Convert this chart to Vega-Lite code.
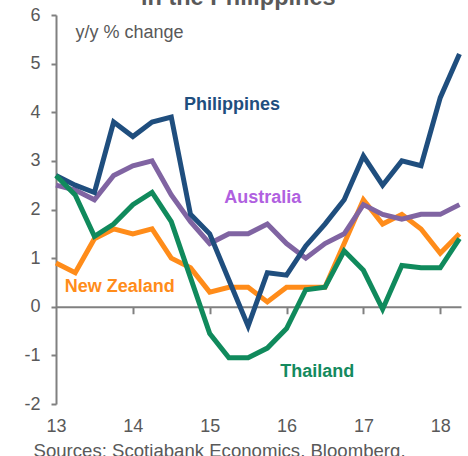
{
  "$schema": "https://vega.github.io/schema/vega-lite/v6.json",
  "width": 405,
  "height": 389,
  "autosize": {"type": "none"},
  "padding": {"left": 56, "top": 15, "right": 7, "bottom": 52},
  "background": "white",
  "config": {
    "font": "Liberation Sans",
    "view": {"stroke": null}
  },
  "title": {
    "text": "in the Philippines",
    "fontSize": 23.5,
    "fontWeight": "bold",
    "color": "#595959",
    "anchor": "start",
    "dx": 117,
    "dy": 22,
    "offset": 0,
    "baseline": "alphabetic"
  },
  "datasets": {
    "series": [
      {"q": 13.0, "country": "New Zealand", "value": 0.9},
      {"q": 13.25, "country": "New Zealand", "value": 0.7},
      {"q": 13.5, "country": "New Zealand", "value": 1.4},
      {"q": 13.75, "country": "New Zealand", "value": 1.6},
      {"q": 14.0, "country": "New Zealand", "value": 1.5},
      {"q": 14.25, "country": "New Zealand", "value": 1.6},
      {"q": 14.5, "country": "New Zealand", "value": 1.0},
      {"q": 14.75, "country": "New Zealand", "value": 0.8},
      {"q": 15.0, "country": "New Zealand", "value": 0.3},
      {"q": 15.25, "country": "New Zealand", "value": 0.4},
      {"q": 15.5, "country": "New Zealand", "value": 0.4},
      {"q": 15.75, "country": "New Zealand", "value": 0.1},
      {"q": 16.0, "country": "New Zealand", "value": 0.4},
      {"q": 16.25, "country": "New Zealand", "value": 0.4},
      {"q": 16.5, "country": "New Zealand", "value": 0.4},
      {"q": 16.75, "country": "New Zealand", "value": 1.3},
      {"q": 17.0, "country": "New Zealand", "value": 2.2},
      {"q": 17.25, "country": "New Zealand", "value": 1.7},
      {"q": 17.5, "country": "New Zealand", "value": 1.9},
      {"q": 17.75, "country": "New Zealand", "value": 1.6},
      {"q": 18.0, "country": "New Zealand", "value": 1.1},
      {"q": 18.25, "country": "New Zealand", "value": 1.5},
      {"q": 13.0, "country": "Australia", "value": 2.5},
      {"q": 13.25, "country": "Australia", "value": 2.4},
      {"q": 13.5, "country": "Australia", "value": 2.2},
      {"q": 13.75, "country": "Australia", "value": 2.7},
      {"q": 14.0, "country": "Australia", "value": 2.9},
      {"q": 14.25, "country": "Australia", "value": 3.0},
      {"q": 14.5, "country": "Australia", "value": 2.3},
      {"q": 14.75, "country": "Australia", "value": 1.75},
      {"q": 15.0, "country": "Australia", "value": 1.3},
      {"q": 15.25, "country": "Australia", "value": 1.5},
      {"q": 15.5, "country": "Australia", "value": 1.5},
      {"q": 15.75, "country": "Australia", "value": 1.7},
      {"q": 16.0, "country": "Australia", "value": 1.3},
      {"q": 16.25, "country": "Australia", "value": 1.0},
      {"q": 16.5, "country": "Australia", "value": 1.3},
      {"q": 16.75, "country": "Australia", "value": 1.5},
      {"q": 17.0, "country": "Australia", "value": 2.1},
      {"q": 17.25, "country": "Australia", "value": 1.9},
      {"q": 17.5, "country": "Australia", "value": 1.8},
      {"q": 17.75, "country": "Australia", "value": 1.9},
      {"q": 18.0, "country": "Australia", "value": 1.9},
      {"q": 18.25, "country": "Australia", "value": 2.1},
      {"q": 13.0, "country": "Philippines", "value": 2.7},
      {"q": 13.25, "country": "Philippines", "value": 2.5},
      {"q": 13.5, "country": "Philippines", "value": 2.35},
      {"q": 13.75, "country": "Philippines", "value": 3.8},
      {"q": 14.0, "country": "Philippines", "value": 3.5},
      {"q": 14.25, "country": "Philippines", "value": 3.8},
      {"q": 14.5, "country": "Philippines", "value": 3.9},
      {"q": 14.75, "country": "Philippines", "value": 1.9},
      {"q": 15.0, "country": "Philippines", "value": 1.5},
      {"q": 15.25, "country": "Philippines", "value": 0.55},
      {"q": 15.5, "country": "Philippines", "value": -0.4},
      {"q": 15.75, "country": "Philippines", "value": 0.7},
      {"q": 16.0, "country": "Philippines", "value": 0.65},
      {"q": 16.25, "country": "Philippines", "value": 1.25},
      {"q": 16.5, "country": "Philippines", "value": 1.7},
      {"q": 16.75, "country": "Philippines", "value": 2.2},
      {"q": 17.0, "country": "Philippines", "value": 3.1},
      {"q": 17.25, "country": "Philippines", "value": 2.5},
      {"q": 17.5, "country": "Philippines", "value": 3.0},
      {"q": 17.75, "country": "Philippines", "value": 2.9},
      {"q": 18.0, "country": "Philippines", "value": 4.3},
      {"q": 18.25, "country": "Philippines", "value": 5.2},
      {"q": 13.0, "country": "Thailand", "value": 2.7},
      {"q": 13.25, "country": "Thailand", "value": 2.3},
      {"q": 13.5, "country": "Thailand", "value": 1.45},
      {"q": 13.75, "country": "Thailand", "value": 1.7},
      {"q": 14.0, "country": "Thailand", "value": 2.1},
      {"q": 14.25, "country": "Thailand", "value": 2.35},
      {"q": 14.5, "country": "Thailand", "value": 1.75},
      {"q": 14.75, "country": "Thailand", "value": 0.6},
      {"q": 15.0, "country": "Thailand", "value": -0.55},
      {"q": 15.25, "country": "Thailand", "value": -1.05},
      {"q": 15.5, "country": "Thailand", "value": -1.05},
      {"q": 15.75, "country": "Thailand", "value": -0.85},
      {"q": 16.0, "country": "Thailand", "value": -0.45},
      {"q": 16.25, "country": "Thailand", "value": 0.35},
      {"q": 16.5, "country": "Thailand", "value": 0.4},
      {"q": 16.75, "country": "Thailand", "value": 1.15},
      {"q": 17.0, "country": "Thailand", "value": 0.75},
      {"q": 17.25, "country": "Thailand", "value": -0.05},
      {"q": 17.5, "country": "Thailand", "value": 0.85},
      {"q": 17.75, "country": "Thailand", "value": 0.8},
      {"q": 18.0, "country": "Thailand", "value": 0.8},
      {"q": 18.25, "country": "Thailand", "value": 1.4}
    ],
    "labels": [
      {"country": "Philippines", "q": 15.29, "value": 4.05},
      {"country": "Australia", "q": 15.69, "value": 2.13},
      {"country": "New Zealand", "q": 13.83, "value": 0.3},
      {"country": "Thailand", "q": 16.4, "value": -1.44}
    ]
  },
  "resolve": {"axis": {"x": "independent"}, "scale": {"color": "independent"}},
  "layer": [
    {
      "data": {"name": "series"},
      "mark": {"type": "line", "strokeWidth": 5, "strokeJoin": "miter"},
      "encoding": {
        "x": {
          "field": "q",
          "type": "quantitative",
          "scale": {"domain": [13, 18.27], "nice": false, "zero": false},
          "axis": {
            "orient": "bottom",
            "values": [13, 14, 15, 16, 17, 18],
            "format": "d",
            "labelFlush": false,
            "labelOverlap": false,
            "domain": false,
            "ticks": false,
            "tickSize": 0,
            "grid": false,
            "labelFontSize": 18,
            "labelColor": "#595959",
            "labelPadding": 13,
            "labelBaseline": "top",
            "title": "Sources: Scotiabank Economics, Bloomberg.",
            "titleFontSize": 18.6,
            "titleFontWeight": "normal",
            "titleColor": "#595959",
            "titleAlign": "left",
            "titleAnchor": "start",
            "titleX": -23,
            "titleY": 52,
            "titleBaseline": "alphabetic"
          }
        },
        "y": {
          "field": "value",
          "type": "quantitative",
          "scale": {"domain": [-2, 6], "nice": false},
          "axis": {
            "values": [-2, -1, 0, 1, 2, 3, 4, 5, 6],
            "labelExpr": "'' + datum.value",
            "grid": false,
            "domainColor": "#808080",
            "domainWidth": 2,
            "tickColor": "#808080",
            "tickWidth": 2,
            "tickSize": 5,
            "labelFontSize": 18,
            "labelColor": "#595959",
            "labelPadding": 11,
            "title": "y/y % change",
            "titleAngle": 0,
            "titleX": 19,
            "titleY": 17,
            "titleAlign": "left",
            "titleBaseline": "middle",
            "titleFontSize": 18,
            "titleFontWeight": "normal",
            "titleColor": "#595959"
          }
        },
        "color": {
          "field": "country",
          "type": "nominal",
          "scale": {
            "domain": ["Philippines", "Australia", "New Zealand", "Thailand"],
            "range": ["#1f4e7e", "#8064a2", "#ff8c1a", "#108a5c"]
          },
          "legend": null
        }
      }
    },
    {
      "data": {"name": "labels"},
      "mark": {"type": "text", "fontSize": 18, "fontWeight": "bold", "baseline": "alphabetic", "align": "center"},
      "encoding": {
        "x": {
          "field": "q",
          "type": "quantitative",
          "scale": {"domain": [13, 18.27], "nice": false, "zero": false},
          "axis": {
            "orient": "bottom",
            "offset": -97.25,
            "values": [14, 15, 16, 17, 18],
            "labels": false,
            "grid": false,
            "domain": true,
            "domainColor": "#808080",
            "domainWidth": 2,
            "ticks": true,
            "tickSize": 7,
            "tickColor": "#808080",
            "tickWidth": 2,
            "title": null
          }
        },
        "y": {"field": "value", "type": "quantitative"},
        "text": {"field": "country"},
        "color": {
          "field": "country",
          "type": "nominal",
          "scale": {
            "domain": ["Philippines", "Australia", "New Zealand", "Thailand"],
            "range": ["#1f4e7e", "#b060e0", "#ff8c1a", "#148a5e"]
          },
          "legend": null
        }
      }
    }
  ]
}
